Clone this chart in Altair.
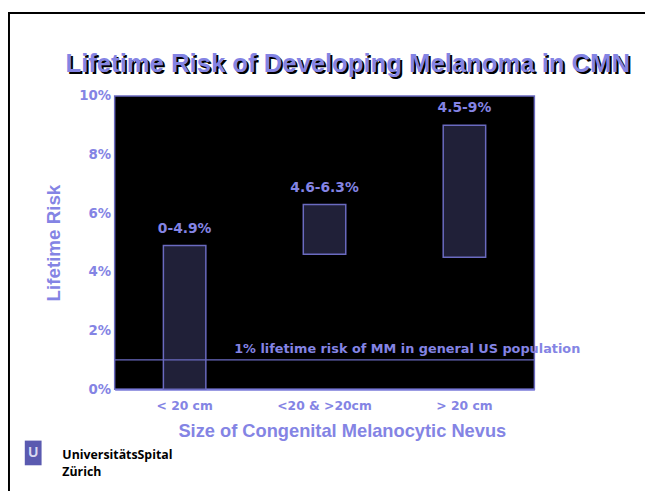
import altair as alt
import pandas as pd

categories = ["< 20 cm", "<20 & >20cm", "> 20 cm"]
risk_low = [0.0, 0.046, 0.045]
risk_high = [0.049, 0.063, 0.09]
range_labels = ["0-4.9%", "4.6-6.3%", "4.5-9%"]
baseline_risk = [0.01]
baseline_label = ["1% lifetime risk of MM in general US population"]
y_ticks = [0, 0.02, 0.04, 0.06, 0.08, 0.10]

PURPLE = "#8484e4"
LINE = "#6a6ac0"
WIDE = "DejaVu Sans"
ARIAL = "Liberation Sans"

df = pd.DataFrame({"cat": categories, "low": risk_low, "high": risk_high, "lab": range_labels})
base_df = pd.DataFrame({"y": baseline_risk, "lab": baseline_label})

W, H = 425, 297
PL, PT = 108, 86

x_enc = alt.X("cat:N", sort=categories,
              scale=alt.Scale(paddingInner=0, paddingOuter=0),
              axis=alt.Axis(title="Size of Congenital Melanocytic Nevus", labelAngle=0,
                            labelColor=PURPLE, labelFont=WIDE, labelFontWeight="bold",
                            labelFontSize=12.5, labelPadding=11, ticks=False,
                            domain=True, domainColor="#7a7ad8", domainWidth=2,
                            titleColor=PURPLE, titleFont=ARIAL, titleFontWeight="bold",
                            titleFontSize=18.5, titlePadding=9, titleX=230))
y_scale = alt.Scale(domain=[0, 0.1], nice=False)
y_axis = alt.Axis(title="Lifetime Risk", values=y_ticks, format=".0%",
                  labelColor=PURPLE, labelFont=WIDE, labelFontWeight="bold",
                  labelFontSize=13.5, labelPadding=4, ticks=False, domain=False, grid=False,
                  titleColor=PURPLE, titleFont=ARIAL, titleFontWeight="bold",
                  titleFontSize=19, titlePadding=16)

bars = alt.Chart(df).mark_bar(size=43, color="#202038", stroke=LINE, strokeWidth=1.5).encode(
    x=x_enc,
    y=alt.Y("low:Q", scale=y_scale, axis=y_axis),
    y2="high:Q",
)

bar_labels = alt.Chart(df).mark_text(baseline="bottom", dy=-10, color=PURPLE, font=WIDE,
                                     fontWeight="bold", fontSize=14).encode(
    x=alt.X("cat:N", sort=categories),
    y=alt.Y("high:Q", scale=y_scale),
    text="lab:N",
)

rule = alt.Chart(base_df).mark_rule(color=LINE, strokeWidth=1.2).encode(
    y=alt.Y("y:Q", scale=y_scale)
)
rule_text = alt.Chart(base_df).mark_text(align="left", baseline="bottom", dy=-4, color=PURPLE,
                                         font=WIDE, fontWeight="bold", fontSize=13).encode(
    x=alt.value(121),
    y=alt.Y("y:Q", scale=y_scale),
    text="lab:N",
)

one = pd.DataFrame({"t": ["Lifetime Risk of Developing Melanoma in CMN"]})
title_shadow = alt.Chart(one).mark_text(align="center", baseline="middle", color="black",
                                        font=ARIAL, fontWeight="bold", fontSize=26).encode(
    x=alt.value(236 + 2), y=alt.value(-32 + 2), text="t:N")
title_main = alt.Chart(one).mark_text(align="center", baseline="middle", color=PURPLE,
                                      font=ARIAL, fontWeight="bold", fontSize=26).encode(
    x=alt.value(236), y=alt.value(-32), text="t:N")

# slide frame
frame_top = alt.Chart(one).mark_rule(color="black", strokeWidth=2).encode(
    x=alt.value(-PL), x2=alt.value(W + 120), y=alt.value(-PT + 2))
frame_left = alt.Chart(one).mark_rule(color="black", strokeWidth=2).encode(
    x=alt.value(-PL + 1), y=alt.value(-PT + 1), y2=alt.value(H + 110))

# logo
logo_box = alt.Chart(one).mark_rect(color="#5a5ab0").encode(
    x=alt.value(25 - 116), x2=alt.value(42 - 116), y=alt.value(443 - 94), y2=alt.value(468 - 94))
logo_u = alt.Chart(one).mark_text(color="#d8d8f0", fontSize=14, fontWeight="bold",
                                  font=ARIAL, baseline="middle").encode(
    x=alt.value(33.5 - 116), y=alt.value(456 - 94), text=alt.value("U"))
logo_t1 = alt.Chart(one).mark_text(align="left", baseline="middle", color="black",
                                   font="Open Sans", fontWeight="bold", fontSize=12.5).encode(
    x=alt.value(63 - 116), y=alt.value(458 - 94), text=alt.value("UniversitätsSpital"))
logo_t2 = alt.Chart(one).mark_text(align="left", baseline="middle", color="black",
                                   font="Open Sans", fontWeight="bold", fontSize=12.5).encode(
    x=alt.value(63 - 116), y=alt.value(475 - 94), text=alt.value("Zürich"))

chart = alt.layer(
    bars, rule, bar_labels, rule_text, title_shadow, title_main,
    frame_top, frame_left, logo_box, logo_u, logo_t1, logo_t2
).properties(
    width=W, height=H,
    autosize=alt.AutoSizeParams(type="none"),
    padding={"left": PL, "top": PT, "right": 112, "bottom": 100},
    background="white",
).configure_view(
    fill="black", stroke=LINE, strokeWidth=1.5
)

chart.save("out.html", embed_options={"renderer": "svg", "actions": False})
